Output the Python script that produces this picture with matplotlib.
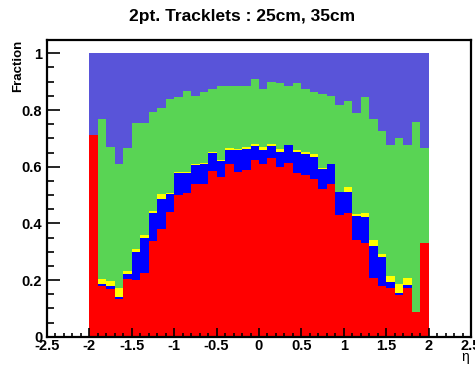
import numpy as np
import matplotlib

matplotlib.use("Agg")

import matplotlib.pyplot as plt
from matplotlib.ticker import MultipleLocator

plt.rcParams["font.family"] = ["Liberation Sans", "DejaVu Sans"]
plt.rcParams["font.weight"] = "bold"

# eta bins, width 0.1 from -2 to 2
eta_edges = np.round(np.arange(-2.0, 2.05, 0.1), 1)

# fraction per bin for each category (stacked bottom -> top)
frac_red = [0.712, 0.179, 0.169, 0.134, 0.202, 0.200, 0.224, 0.338, 0.379, 0.439,
            0.499, 0.506, 0.539, 0.539, 0.585, 0.562, 0.611, 0.582, 0.588, 0.625,
            0.609, 0.632, 0.599, 0.612, 0.579, 0.569, 0.555, 0.521, 0.539, 0.431,
            0.436, 0.341, 0.332, 0.208, 0.180, 0.173, 0.147, 0.171, 0.088, 0.331]
frac_blue = [0.000, 0.007, 0.010, 0.006, 0.019, 0.099, 0.124, 0.100, 0.107, 0.065,
             0.077, 0.070, 0.067, 0.069, 0.064, 0.058, 0.047, 0.077, 0.074, 0.047,
             0.050, 0.041, 0.053, 0.063, 0.073, 0.075, 0.080, 0.072, 0.070, 0.081,
             0.076, 0.086, 0.089, 0.113, 0.101, 0.019, 0.006, 0.010, 0.000, 0.000]
frac_yellow = [0.000, 0.016, 0.016, 0.033, 0.012, 0.010, 0.011, 0.004, 0.016, 0.003,
               0.006, 0.006, 0.005, 0.005, 0.003, 0.005, 0.008, 0.003, 0.007, 0.007,
               0.009, 0.006, 0.009, 0.001, 0.007, 0.007, 0.010, 0.003, 0.002, 0.000,
               0.016, 0.007, 0.015, 0.020, 0.010, 0.023, 0.033, 0.027, 0.000, 0.000]
frac_green = [0.000, 0.566, 0.473, 0.436, 0.432, 0.444, 0.394, 0.351, 0.305, 0.332,
              0.263, 0.286, 0.240, 0.249, 0.222, 0.261, 0.218, 0.224, 0.215, 0.230,
              0.206, 0.221, 0.235, 0.210, 0.237, 0.222, 0.220, 0.260, 0.238, 0.306,
              0.304, 0.357, 0.411, 0.427, 0.435, 0.460, 0.515, 0.467, 0.671, 0.334]
frac_purple = [0.288, 0.232, 0.332, 0.391, 0.335, 0.247, 0.247, 0.207, 0.193, 0.161,
               0.155, 0.132, 0.149, 0.138, 0.126, 0.114, 0.116, 0.114, 0.116, 0.091,
               0.126, 0.100, 0.104, 0.114, 0.104, 0.127, 0.135, 0.144, 0.151, 0.182,
               0.168, 0.209, 0.153, 0.232, 0.274, 0.325, 0.299, 0.325, 0.241, 0.335]

layers = [frac_red, frac_blue, frac_yellow, frac_green, frac_purple]
colors = ["#ff0000", "#0000ff", "#ffff00", "#59d454", "#5954d9"]

fig = plt.figure(figsize=(4.75, 3.65), dpi=100)
ax = fig.add_axes([0.0989, 0.0775, 0.8927, 0.8129])

# 叠加直方图
bottom = np.zeros(len(frac_red))
for vals, c in zip(layers, colors):
    vals = np.asarray(vals)
    ax.stairs(bottom + vals, eta_edges, baseline=bottom, fill=True,
              color=c, linewidth=0)
    bottom = bottom + vals

ax.set_xlim(-2.5, 2.5)
ax.set_ylim(0, 1.047)

ax.xaxis.set_minor_locator(MultipleLocator(0.1))
ax.yaxis.set_minor_locator(MultipleLocator(0.05))
ax.set_xticks(np.arange(-2.5, 2.51, 0.5))
ax.set_xticklabels(["-2.5", "-2", "-1.5", "-1", "-0.5", "0", "0.5", "1", "1.5", "2", "2.5"])
ax.set_yticks([0, 0.2, 0.4, 0.6, 0.8, 1.0])
ax.set_yticklabels(["0", "0.2", "0.4", "0.6", "0.8", "1"])

ax.tick_params(axis="x", which="major", direction="in", length=6.4, width=1.2,
               labelsize=10.5, pad=2)
ax.tick_params(axis="x", which="minor", direction="in", length=3.2, width=1.2)
ax.tick_params(axis="y", which="major", direction="in", length=9.4, width=1.2,
               labelsize=10.5, pad=3.4)
ax.tick_params(axis="y", which="minor", direction="in", length=4.7, width=1.2)
ax.tick_params(top=False, right=False, which="both")

for s in ax.spines.values():
    s.set_linewidth(1.6)

# 坐标轴标签和标题
ax.set_ylabel("Fraction", loc="top", fontsize=9.5, fontweight="bold")
ax.yaxis.set_label_coords(-0.054, 1.0)
fig.text(465 / 475, 1 - 357 / 365, "η", ha="center", va="center", fontsize=10,
         fontweight="normal")
fig.text(0.51, 0.955, "2pt. Tracklets : 25cm, 35cm", ha="center", va="center",
         fontsize=12.5, fontweight="bold")

plt.savefig("out.png", dpi=100)
print("save plot image to: out.png")
